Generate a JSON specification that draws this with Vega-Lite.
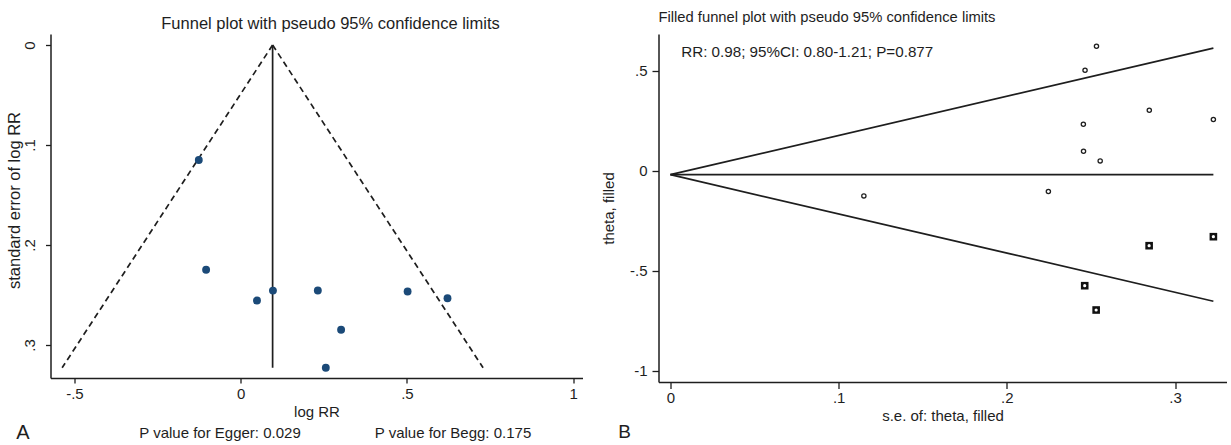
{
  "$schema": "https://vega.github.io/schema/vega-lite/v6.json",
  "background": "white",
  "padding": {"left": 6.5, "top": 10, "right": 2, "bottom": 0},
  "bounds": "flush",
  "spacing": 76,
  "config": {
    "view": {"stroke": null},
    "font": "Liberation Sans",
    "title": {"fontWeight": "normal", "color": "#1e1e1e", "font": "Liberation Sans"},
    "axis": {
      "grid": false,
      "domainColor": "#1e1e1e",
      "domainWidth": 1.5,
      "tickColor": "#1e1e1e",
      "tickWidth": 1.3,
      "tickSize": 5,
      "labelColor": "#1e1e1e",
      "labelFontSize": 15,
      "labelFont": "Liberation Sans",
      "titleColor": "#1e1e1e",
      "titleFontSize": 15,
      "titleFont": "Liberation Sans",
      "titleFontWeight": "normal",
      "labelExpr": "datum.value == 0 ? '0' : (datum.value < 0 ? '-' : '') + replace(format(abs(datum.value), '~g'), '0.', '.')"
    }
  },
  "datasets": {
    "studies": [
      {"study": 1, "theta": -0.126, "se": 0.115, "filled": false},
      {"study": 2, "theta": -0.104, "se": 0.2247, "filled": false},
      {"study": 3, "theta": 0.049, "se": 0.2555, "filled": false},
      {"study": 4, "theta": 0.097, "se": 0.2456, "filled": false},
      {"study": 5, "theta": 0.232, "se": 0.2455, "filled": false},
      {"study": 6, "theta": 0.502, "se": 0.2465, "filled": false},
      {"study": 7, "theta": 0.622, "se": 0.2533, "filled": false},
      {"study": 8, "theta": 0.302, "se": 0.2847, "filled": false},
      {"study": 9, "theta": 0.256, "se": 0.3228, "filled": false},
      {"study": 10, "theta": -0.375, "se": 0.2846, "filled": true},
      {"study": 11, "theta": -0.33, "se": 0.3228, "filled": true},
      {"study": 12, "theta": -0.575, "se": 0.2463, "filled": true},
      {"study": 13, "theta": -0.6965, "se": 0.2531, "filled": true}
    ],
    "limitsObserved": [
      {"kind": "limit", "theta0": 0.096, "se0": 0, "theta1": -0.537, "se1": 0.3228},
      {"kind": "limit", "theta0": 0.096, "se0": 0, "theta1": 0.729, "se1": 0.3228},
      {"kind": "pooled", "theta0": 0.096, "se0": 0, "theta1": 0.096, "se1": 0.3228}
    ],
    "limitsFilled": [
      {"kind": "limit", "theta0": -0.02, "se0": 0, "theta1": 0.6127, "se1": 0.3228},
      {"kind": "limit", "theta0": -0.02, "se0": 0, "theta1": -0.6527, "se1": 0.3228},
      {"kind": "pooled", "theta0": -0.02, "se0": 0, "theta1": -0.02, "se1": 0.3228}
    ],
    "single": [{}]
  },
  "hconcat": [
    {
      "width": 532,
      "height": 344,
      "title": {
        "text": "Funnel plot with pseudo 95% confidence limits",
        "fontSize": 16.5,
        "anchor": "middle",
        "frame": "group",
        "dx": 14,
        "offset": 2
      },
      "layer": [
        {
          "data": {"name": "limitsObserved"},
          "mark": {"type": "rule", "color": "#1e1e1e", "strokeWidth": 1.7},
          "encoding": {
            "x": {
              "field": "theta0",
              "type": "quantitative",
              "scale": {"domain": [-0.572, 1.028], "nice": false, "zero": false},
              "axis": {"title": "log RR", "values": [-0.5, 0, 0.5, 1], "labelPadding": 3, "titlePadding": 3}
            },
            "x2": {"field": "theta1"},
            "y": {
              "field": "se0",
              "type": "quantitative",
              "scale": {"domain": [-0.011, 0.333], "reverse": true, "nice": false, "zero": false},
              "axis": {
                "title": "standard error of log RR",
                "titleFontSize": 16.5,
                "titleY": 166,
                "values": [0, 0.1, 0.2, 0.3],
                "labelAngle": -90,
                "labelAlign": "center",
                "labelBaseline": "bottom",
                "labelPadding": 8,
                "titlePadding": 0
              }
            },
            "y2": {"field": "se1"},
            "strokeDash": {
              "field": "kind",
              "type": "nominal",
              "scale": {"domain": ["limit", "pooled"], "range": [[6, 4], [1, 0]]},
              "legend": null
            }
          }
        },
        {
          "data": {"name": "studies"},
          "transform": [{"filter": "!datum.filled"}],
          "mark": {"type": "point", "shape": "circle", "filled": true, "color": "#1b4a78", "opacity": 1, "size": 62},
          "encoding": {
            "x": {"field": "theta", "type": "quantitative"},
            "y": {"field": "se", "type": "quantitative"}
          }
        },
        {
          "data": {"name": "single"},
          "mark": {"type": "text", "fontSize": 20, "color": "#1e1e1e", "align": "center", "baseline": "middle"},
          "encoding": {
            "x": {"datum": -0.655, "type": "quantitative"},
            "y": {"datum": 0.388, "type": "quantitative"},
            "text": {"value": "A"}
          }
        },
        {
          "data": {"name": "single"},
          "mark": {"type": "text", "fontSize": 15, "color": "#1e1e1e", "align": "center", "baseline": "middle"},
          "encoding": {
            "x": {"datum": -0.0623, "type": "quantitative"},
            "y": {"datum": 0.388, "type": "quantitative"},
            "text": {"value": "P value for Egger: 0.029"}
          }
        },
        {
          "data": {"name": "single"},
          "mark": {"type": "text", "fontSize": 15, "color": "#1e1e1e", "align": "center", "baseline": "middle"},
          "encoding": {
            "x": {"datum": 0.6385, "type": "quantitative"},
            "y": {"datum": 0.388, "type": "quantitative"},
            "text": {"value": "P value for Begg: 0.175"}
          }
        }
      ]
    },
    {
      "width": 568,
      "height": 348,
      "title": {
        "text": "Filled funnel plot with pseudo 95% confidence limits",
        "fontSize": 14.75,
        "anchor": "start",
        "frame": "group",
        "offset": 9
      },
      "layer": [
        {
          "data": {"name": "limitsFilled"},
          "mark": {"type": "rule", "color": "#1e1e1e", "strokeWidth": 1.7},
          "encoding": {
            "x": {
              "field": "se0",
              "type": "quantitative",
              "scale": {"domain": [-0.0071, 0.3306], "nice": false, "zero": false},
              "axis": {"title": "s.e. of: theta, filled", "values": [0, 0.1, 0.2, 0.3], "tickSize": 6.5, "labelPadding": 2, "titlePadding": 3}
            },
            "x2": {"field": "se1"},
            "y": {
              "field": "theta0",
              "type": "quantitative",
              "scale": {"domain": [-1.0565, 0.6835], "nice": false, "zero": false},
              "axis": {"title": "theta, filled", "values": [-1, -0.5, 0, 0.5], "tickSize": 6.5, "labelPadding": 5, "titlePadding": 13}
            },
            "y2": {"field": "theta1"}
          }
        },
        {
          "data": {"name": "studies"},
          "transform": [{"filter": "!datum.filled"}],
          "mark": {"type": "point", "shape": "circle", "filled": false, "color": "#1e1e1e", "strokeWidth": 1.3, "opacity": 1, "size": 18},
          "encoding": {
            "x": {"field": "se", "type": "quantitative"},
            "y": {"field": "theta", "type": "quantitative"}
          }
        },
        {
          "data": {"name": "studies"},
          "transform": [{"filter": "datum.filled"}],
          "mark": {"type": "point", "shape": "square", "filled": true, "color": "#111111", "opacity": 1, "size": 58},
          "encoding": {
            "x": {"field": "se", "type": "quantitative"},
            "y": {"field": "theta", "type": "quantitative"}
          }
        },
        {
          "data": {"name": "studies"},
          "transform": [{"filter": "datum.filled"}],
          "mark": {"type": "point", "shape": "circle", "filled": true, "color": "white", "opacity": 1, "size": 10},
          "encoding": {
            "x": {"field": "se", "type": "quantitative"},
            "y": {"field": "theta", "type": "quantitative"}
          }
        },
        {
          "data": {"name": "single"},
          "mark": {"type": "text", "fontSize": 15.2, "color": "#1e1e1e", "align": "left", "baseline": "middle"},
          "encoding": {
            "x": {"datum": 0.0064, "type": "quantitative"},
            "y": {"datum": 0.592, "type": "quantitative"},
            "text": {"value": "RR: 0.98; 95%CI: 0.80-1.21; P=0.877"}
          }
        },
        {
          "data": {"name": "single"},
          "mark": {"type": "text", "fontSize": 19, "color": "#1e1e1e", "align": "center", "baseline": "middle"},
          "encoding": {
            "x": {"datum": -0.0273, "type": "quantitative"},
            "y": {"datum": -1.3065, "type": "quantitative"},
            "text": {"value": "B"}
          }
        }
      ]
    }
  ]
}
